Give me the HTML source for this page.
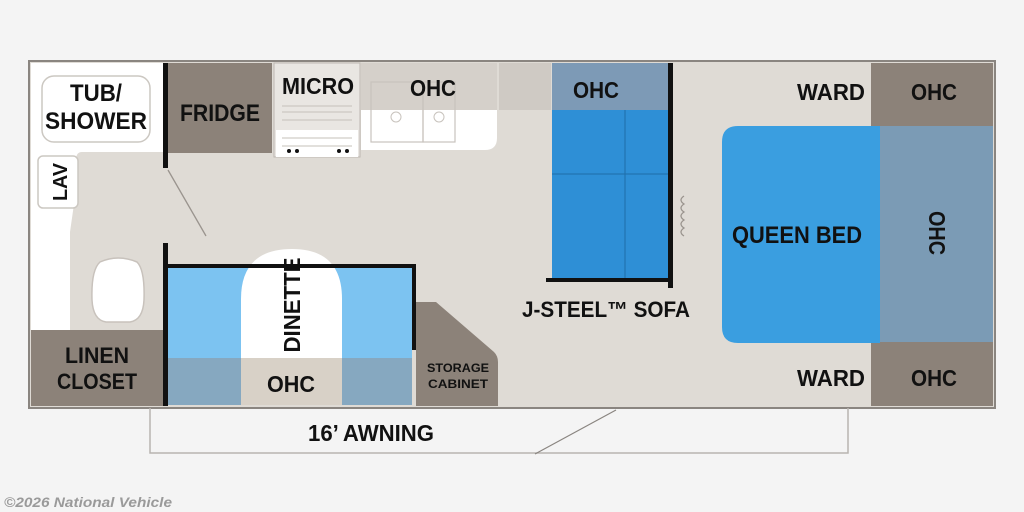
<!DOCTYPE html>
<html><head><meta charset="utf-8"><style>
html,body{margin:0;padding:0;background:#f4f4f4;width:1024px;height:512px;overflow:hidden}
text{font-family:"Liberation Sans Narrow","Liberation Sans",sans-serif;font-weight:bold;fill:#111}
</style></head><body>
<svg width="1024" height="512" viewBox="0 0 1024 512" xmlns="http://www.w3.org/2000/svg">
<rect width="1024" height="512" fill="#f4f4f4"/>
<!-- floor -->
<rect x="29" y="61" width="966" height="347" fill="#dfdbd5" stroke="#8a8580" stroke-width="2"/>
<!-- bath white -->
<path d="M31 63 H163 V152 H82 Q76 152 76 160 V190 L70 232 V330 H31 Z" fill="#fff"/>
<rect x="42" y="76" width="108" height="66" rx="12" fill="#fff" stroke="#ccc8c2" stroke-width="1.5"/>
<rect x="38" y="156" width="40" height="52" rx="5" fill="#fff" stroke="#ccc8c2" stroke-width="1.5"/>
<path d="M100 262 Q118 254 137 262 Q145 270 144 300 Q143 320 130 322 H106 Q93 320 92 300 Q91 270 100 262 Z" fill="#fff" stroke="#c8c2bc" stroke-width="1.5"/>
<rect x="31" y="330" width="132" height="76" fill="#8c8279"/>
<!-- door swing -->
<line x1="168" y1="170" x2="206" y2="236" stroke="#9a948e" stroke-width="1.3"/>
<!-- fridge -->
<rect x="167" y="63" width="105" height="90" fill="#8c8279"/>
<!-- micro/stove -->
<rect x="274" y="63" width="86" height="94" fill="#e9e6e2" stroke="#bdb7b1" stroke-width="1"/>
<rect x="276" y="130" width="82" height="27" fill="#fff"/>
<g stroke="#c5c0ba" stroke-width="1"><line x1="282" y1="106" x2="352" y2="106"/><line x1="282" y1="112" x2="352" y2="112"/><line x1="282" y1="120" x2="352" y2="120"/><line x1="282" y1="138" x2="352" y2="138"/><line x1="282" y1="146" x2="352" y2="146"/></g>
<g fill="#111"><circle cx="289" cy="151" r="2"/><circle cx="297" cy="151" r="2"/><circle cx="339" cy="151" r="2"/><circle cx="347" cy="151" r="2"/></g>
<!-- sink counter -->
<path d="M361 63 H497 V138 Q497 150 485 150 H361 Z" fill="#d5d0ca"/>
<path d="M361 110 H497 V138 Q497 150 485 150 H361 Z" fill="#fff"/>
<rect x="371" y="82" width="52" height="60" fill="none" stroke="#c8c3bd" stroke-width="1.2"/>
<rect x="423" y="82" width="32" height="60" fill="none" stroke="#c8c3bd" stroke-width="1.2"/>
<circle cx="396" cy="117" r="5" fill="none" stroke="#c8c3bd"/><circle cx="439" cy="117" r="5" fill="none" stroke="#c8c3bd"/>
<rect x="499" y="63" width="52" height="47" fill="#cfcac4"/>
<!-- sofa -->
<rect x="552" y="63" width="116" height="47" fill="#7d9ab6"/>
<rect x="552" y="110" width="116" height="170" fill="#2e8fd6"/>
<line x1="625" y1="110" x2="625" y2="280" stroke="#1f6ea8" stroke-width="1"/>
<line x1="552" y1="174" x2="668" y2="174" stroke="#1f6ea8" stroke-width="1"/>
<rect x="668" y="63" width="5" height="225" fill="#111"/>
<rect x="546" y="278" width="127" height="4" fill="#111"/>
<path d="M684 196 q-6 4 0 8 q-6 4 0 8 q-6 4 0 8 q-6 4 0 8 q-6 4 0 8" fill="none" stroke="#9a948e" stroke-width="1.3"/>
<!-- dinette -->
<rect x="168" y="268" width="244" height="90" fill="#7cc3f1"/>
<rect x="168" y="358" width="244" height="47" fill="#86a8c0"/>
<path d="M241 405 V299 Q241 249 292 249 Q342 249 342 299 V405 Z" fill="#fff"/>
<rect x="241" y="358" width="101" height="47" fill="#d8d1c7"/>
<rect x="167" y="264" width="249" height="4" fill="#111"/>
<rect x="412" y="264" width="4" height="86" fill="#111"/>
<!-- walls -->
<rect x="163" y="63" width="5" height="105" fill="#111"/>
<rect x="163" y="243" width="5" height="163" fill="#111"/>
<!-- storage -->
<path d="M416 302 H436 L494 352 Q498 356 498 362 V406 H416 Z" fill="#8c8279"/>
<!-- bedroom -->
<rect x="871" y="63" width="122" height="63" fill="#8c8279"/>
<rect x="871" y="342" width="122" height="64" fill="#8c8279"/>
<path d="M738 126 H880 V343 H738 Q722 343 722 327 V142 Q722 126 738 126 Z" fill="#3a9ee0"/>
<rect x="880" y="126" width="113" height="216" fill="#7b9bb5"/>
<!-- awning -->
<path d="M150 408 V453 H848 V408" fill="none" stroke="#b8b4b0" stroke-width="1.5"/>
<line x1="535" y1="454" x2="616" y2="410" stroke="#8a8580" stroke-width="1.2"/>
<!-- labels -->
<text x="96" y="101" font-size="24" text-anchor="middle" textLength="52" lengthAdjust="spacingAndGlyphs">TUB/</text>
<text x="96" y="129" font-size="24" text-anchor="middle" textLength="102" lengthAdjust="spacingAndGlyphs">SHOWER</text>
<text x="220" y="121" font-size="24" text-anchor="middle" textLength="80" lengthAdjust="spacingAndGlyphs">FRIDGE</text>
<text x="318" y="94" font-size="23" text-anchor="middle" textLength="72" lengthAdjust="spacingAndGlyphs">MICRO</text>
<text x="433" y="96" font-size="23" text-anchor="middle" textLength="46" lengthAdjust="spacingAndGlyphs">OHC</text>
<text x="596" y="98" font-size="23" text-anchor="middle" textLength="46" lengthAdjust="spacingAndGlyphs">OHC</text>
<text transform="translate(67,182) rotate(-90)" font-size="20" text-anchor="middle" textLength="38" lengthAdjust="spacingAndGlyphs">LAV</text>
<text transform="translate(300,305) rotate(-90)" font-size="23" text-anchor="middle" textLength="95" lengthAdjust="spacingAndGlyphs">DINETTE</text>
<text x="291" y="392" font-size="23" text-anchor="middle" textLength="48" lengthAdjust="spacingAndGlyphs">OHC</text>
<text x="97" y="363" font-size="22" text-anchor="middle" textLength="64" lengthAdjust="spacingAndGlyphs">LINEN</text>
<text x="97" y="389" font-size="22" text-anchor="middle" textLength="80" lengthAdjust="spacingAndGlyphs">CLOSET</text>
<text x="458" y="372" font-size="12" text-anchor="middle" textLength="62" lengthAdjust="spacingAndGlyphs">STORAGE</text>
<text x="458" y="388" font-size="12" text-anchor="middle" textLength="60" lengthAdjust="spacingAndGlyphs">CABINET</text>
<text x="606" y="317" font-size="22" text-anchor="middle" textLength="168" lengthAdjust="spacingAndGlyphs">J-STEEL™ SOFA</text>
<text x="831" y="100" font-size="23" text-anchor="middle" textLength="68" lengthAdjust="spacingAndGlyphs">WARD</text>
<text x="831" y="386" font-size="23" text-anchor="middle" textLength="68" lengthAdjust="spacingAndGlyphs">WARD</text>
<text x="934" y="100" font-size="23" text-anchor="middle" textLength="46" lengthAdjust="spacingAndGlyphs">OHC</text>
<text x="934" y="386" font-size="23" text-anchor="middle" textLength="46" lengthAdjust="spacingAndGlyphs">OHC</text>
<text x="797" y="243" font-size="24" text-anchor="middle" textLength="130" lengthAdjust="spacingAndGlyphs">QUEEN BED</text>
<text transform="translate(929,233) rotate(90)" font-size="23" text-anchor="middle" textLength="44" lengthAdjust="spacingAndGlyphs">OHC</text>
<text x="371" y="441" font-size="23" text-anchor="middle" textLength="126" lengthAdjust="spacingAndGlyphs">16’ AWNING</text>
<text x="4" y="507" font-size="14" font-style="italic" style="font-family:'Liberation Sans',sans-serif;fill:#9a9a9a" textLength="168" lengthAdjust="spacingAndGlyphs">©2026 National Vehicle</text>
</svg>
</body></html>
